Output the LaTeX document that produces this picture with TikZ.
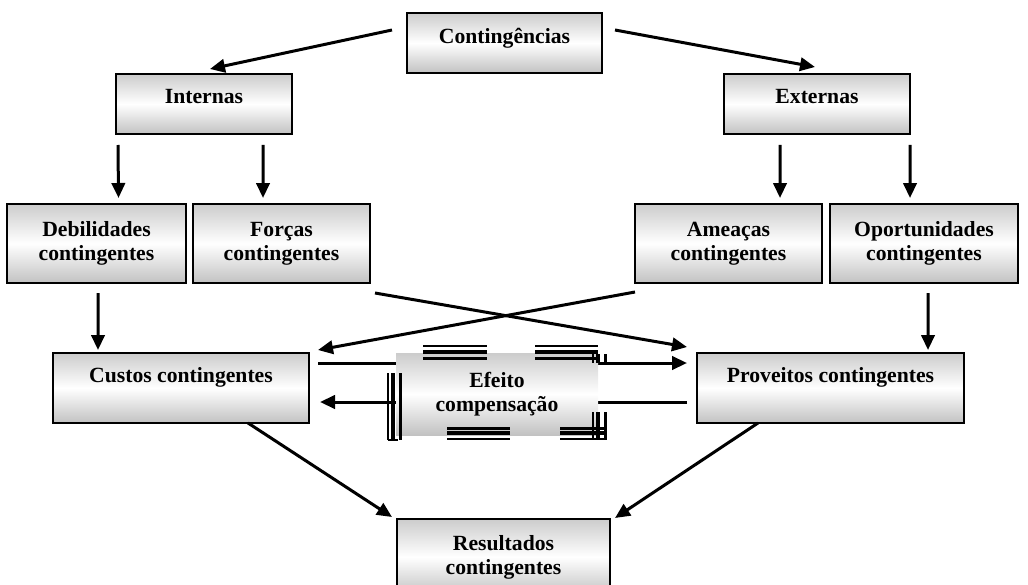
\documentclass[tikz,border=0pt]{standalone}
\usepackage{fontspec}
\setmainfont{Liberation Serif}
\usetikzlibrary{arrows.meta, positioning, shapes}

\tikzset{
  box/.style={draw, line width=1.1pt, top color=black!20, bottom color=black!24, middle color=white,
    font=\fontsize{13}{14.5}\selectfont\bfseries, align=center, inner sep=0pt, outer sep=0pt},
  arrow/.style={-{Triangle[length=9pt,width=8pt]}, line width=1.8pt}
}

\begin{document}
\begin{tikzpicture}[x=0.6pt, y=-0.6pt]
    \useasboundingbox (0,0) rectangle (1028,585);

    % Nodes
    \node (cont)    [box, minimum width=117pt, minimum height=36pt, text depth=8pt] at (504.5,43) {Contingências};
    \node (intern)  [box, minimum width=105.6pt, minimum height=36pt, text depth=9pt] at (204,104) {Internas};
    \node (extern)  [box, minimum width=111.6pt, minimum height=36pt, text depth=9pt] at (817,104) {Externas};
    \node (debil)   [box, minimum width=107.4pt, minimum height=47.4pt] at (96.5,243.5) {Debilidades\\contingentes};
    \node (forcas)  [box, minimum width=106.2pt, minimum height=47.4pt] at (281.5,243.5) {Forças\\contingentes};
    \node (ameacas) [box, minimum width=112.2pt, minimum height=47.4pt] at (728.5,243.5) {Ameaças\\contingentes};
    \node (oport)   [box, minimum width=112.8pt, minimum height=47.4pt] at (924,243.5) {Oportunidades\\contingentes};
    \node (custos)  [box, minimum width=153.6pt, minimum height=42pt, text depth=16pt] at (181,388) {Custos contingentes};
    \node (prov)    [box, minimum width=160.2pt, minimum height=42pt, text depth=16pt] at (830.5,388) {Proveitos contingentes};
    \node (result)  [box, minimum width=127.8pt, minimum height=45.6pt] at (503.5,557) {Resultados\\contingentes};

    % Arrows
    \draw[arrow] ([shift={(-15,17)}]cont.north west) -- ([shift={(6,-5)}]intern.north);
    \draw[arrow] ([shift={(13,17)}]cont.north east) -- ([shift={(-2,-7)}]extern.north);
    \draw[arrow] ([shift={(2,11)}]intern.south west) -- ([shift={(111.5,-6)}]debil.north west);
    \draw[arrow] ([shift={(147,11)}]intern.south west) -- ([shift={(70,-6)}]forcas.north west);
    \draw[arrow] ([shift={(56,11)}]extern.south west) -- ([shift={(145,-6)}]ameacas.north west);
    \draw[arrow] ([shift={(186,11)}]extern.south west) -- ([shift={(80,-6)}]oport.north west);
    \draw[arrow] ([shift={(91,10)}]debil.south west) -- ([shift={(45,-3)}]custos.north west);
    \draw[arrow] ([shift={(98,10)}]oport.south west) -- ([shift={(-36,-3)}]prov.north east);
    \draw[arrow] ([shift={(5,10)}]forcas.south east) -- ([shift={(-10,-6)}]prov.north west);
    \draw[arrow] ([shift={(0,9)}]ameacas.south west) -- ([shift={(9,-3)}]custos.north east);
    \draw[arrow] ([shift={(9,10)}]custos.north east) -- ([shift={(-10,10)}]prov.north west);
    \draw[arrow] ([shift={(-10,-21)}]prov.south west) -- ([shift={(11,-21)}]custos.south east);
    \draw[arrow] ([shift={(195,0)}]custos.south west) -- ([shift={(-5,-2)}]result.north west);
    \draw[arrow] ([shift={(61,0)}]prov.south west) -- ([shift={(5,-1)}]result.north east);

    % Efeito compensacao, over the two middle arrows
    \node (efeito) [box, draw=none, minimum width=121.2pt, minimum height=49.2pt] at (497,394) {Efeito\\compensação};
    \foreach \y/\w in {346/1.3pt, 351.5/2.4pt, 358/1.8pt} {
      \draw[line width=\w] (423,\y) -- (487,\y);
      \draw[line width=\w] (535,\y) -- (598,\y);
    }
    \foreach \y/\w in {428/1.8pt, 433/2.4pt, 439/1.3pt} {
      \draw[line width=\w] (447,\y) -- (510,\y);
      \draw[line width=\w] (560,\y) -- (604,\y);
    }
    \foreach \x/\w in {388/1.3pt, 393/2.4pt, 400/1.8pt} {
      \draw[line width=\w] (\x,373) -- (\x,440);
      \draw[line width=\w] (\x+205,412) -- (\x+205,440);
      \draw[line width=\w] (\x+205,354) -- (\x+205,363);
    }
    \draw[line width=1.3pt] (388,440) -- (398,440);
\end{tikzpicture}
\end{document}
